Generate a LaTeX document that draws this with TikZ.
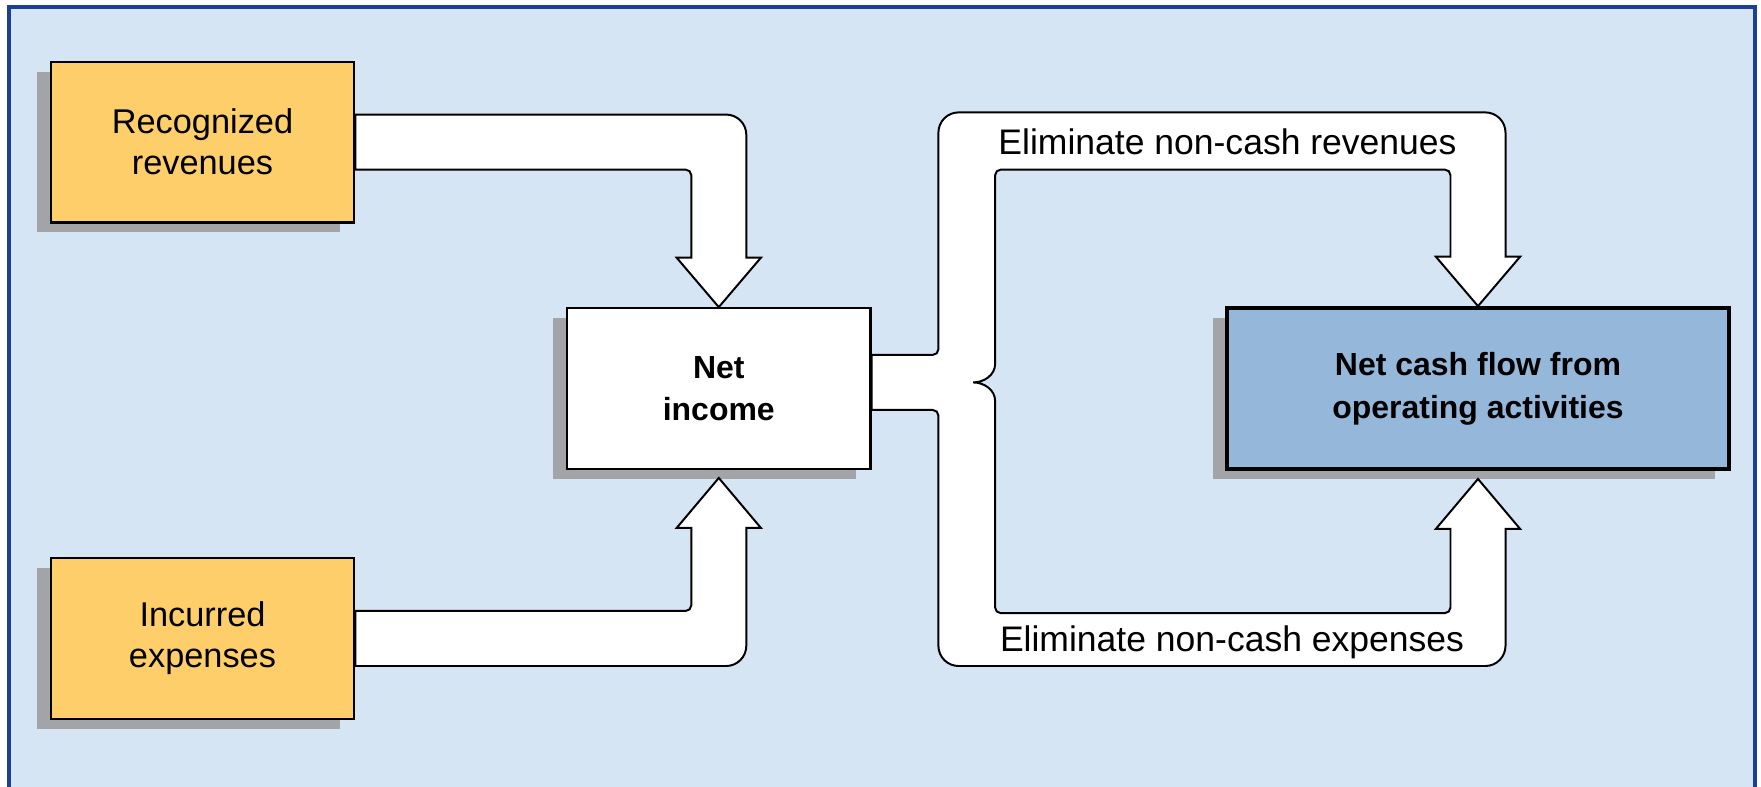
\documentclass[tikz,border=0pt]{standalone}
\usepackage{fontspec}
\setmainfont{Liberation Sans}
\usetikzlibrary{calc,shadows}

\definecolor{panelblue}{RGB}{213,229,244}
\definecolor{frameblue}{RGB}{28,64,150}
\definecolor{boxyellow}{RGB}{254,206,106}
\definecolor{cashblue}{RGB}{149,184,218}
\definecolor{shadegrey}{RGB}{163,164,168}

\begin{document}
\begin{tikzpicture}[x=1cm,y=1cm,
    box/.style={draw=black,line width=0.6pt,minimum width=2.7cm,minimum height=1.43cm,
      align=center,inner sep=0pt,
      drop shadow={shadow xshift=-1.25mm,shadow yshift=-0.9mm,fill=shadegrey,opacity=1}},
    plain/.style={font=\fontsize{8.7}{10.4}\selectfont},
    heavy/.style={font=\fontsize{8.1}{10.8}\selectfont\bfseries},
    fatarrow/.style={draw=black,line width=0.5pt,fill=white,line join=miter},
    elim/.style={font=\fontsize{9}{10}\selectfont,inner sep=0pt,text depth=0pt}]
  \useasboundingbox (0,0) rectangle (15.68,7);
  \draw[frameblue,line width=1pt,fill=panelblue] (0.08,-0.3) rectangle (15.63,6.94);

  \node[box,fill=boxyellow,plain] (rev) at (1.803,5.735) {Recognized\\revenues};
  \node[box,fill=boxyellow,plain] (exp) at (1.803,1.315) {Incurred\\expenses};
  \node[box,fill=white,heavy] (ni) at (6.40,3.54) {Net\\income};
  \node[box,fill=cashblue,heavy,minimum width=4.47cm,line width=1.1pt] (cf) at (13.16,3.54)
    {Net cash flow from\\operating activities};

  \coordinate (nitip) at ($(ni.south)+(0,-0.07)$);
  \coordinate (cftip) at ($(cf.south)+(0,-0.07)$);

  % revenues and expenses into net income
  \draw[fatarrow] ($(rev.east)+(0,0.245)$) [rounded corners=1.8mm] -| ($(ni.north)+(0.245,1)$)
    [sharp corners] -- ($(ni.north)+(0.245,0.44)$) -- ++(0.13,0) -- (ni.north) -- ++(-0.375,0.44) -- ++(0.13,0)
    [rounded corners=0.5mm] |- ($(rev.east)+(1,-0.245)$) [sharp corners] -- ($(rev.east)+(0,-0.245)$) -- cycle;
  \draw[fatarrow] ($(exp.east)+(0,-0.245)$) [rounded corners=1.8mm] -| ($(nitip)+(0.245,-1)$)
    [sharp corners] -- ($(nitip)+(0.245,-0.445)$) -- ++(0.13,0) -- (nitip) -- ++(-0.375,-0.445) -- ++(0.13,0)
    [rounded corners=0.5mm] |- ($(exp.east)+(1,0.245)$) [sharp corners] -- ($(exp.east)+(0,0.245)$) -- cycle;

  % net income split into the two adjustments
  \draw[fatarrow] ($(ni.east)+(0,0.3)$) [rounded corners=0.5mm] -| ($(ni.east)+(0.595,1)$)
    [rounded corners=1.8mm] |- ($(cf.north)+(0.245,1.725)$)
    [sharp corners] -- ($(cf.north)+(0.245,0.44)$) -- ++(0.13,0) -- (cf.north) -- ++(-0.375,0.44) -- ++(0.13,0)
    [rounded corners=0.5mm] |- ($(ni.east)+(1.1,1.95)$)
    [sharp corners] -- ($(ni.east)+(1.1,0.22)$)
    .. controls ($(ni.east)+(1.1,0.12)$) and ($(ni.east)+(1.0,0.055)$) .. ($(ni.east)+(0.905,0.055)$)
    .. controls ($(ni.east)+(1.0,0.055)$) and ($(ni.east)+(1.1,-0.01)$) .. ($(ni.east)+(1.1,-0.11)$)
    [rounded corners=0.5mm] |- ($(cftip)+(-0.245,-1.195)$)
    [sharp corners] -- ($(cftip)+(-0.245,-0.445)$) -- ++(-0.13,0) -- (cftip) -- ++(0.375,-0.445) -- ++(-0.13,0)
    [rounded corners=1.8mm] |- ($(ni.east)+(0.595,-2.47)$)
    [rounded corners=0.5mm] -- ($(ni.east)+(0.595,-0.19)$)
    [sharp corners] -- ($(ni.east)+(0,-0.19)$) -- cycle;

  \node[elim] (elimrev) at (10.93,5.735) {Eliminate non-cash revenues};
  \node[elim] (elimexp) at (10.97,1.315) {Eliminate non-cash expenses};
\end{tikzpicture}
\end{document}
